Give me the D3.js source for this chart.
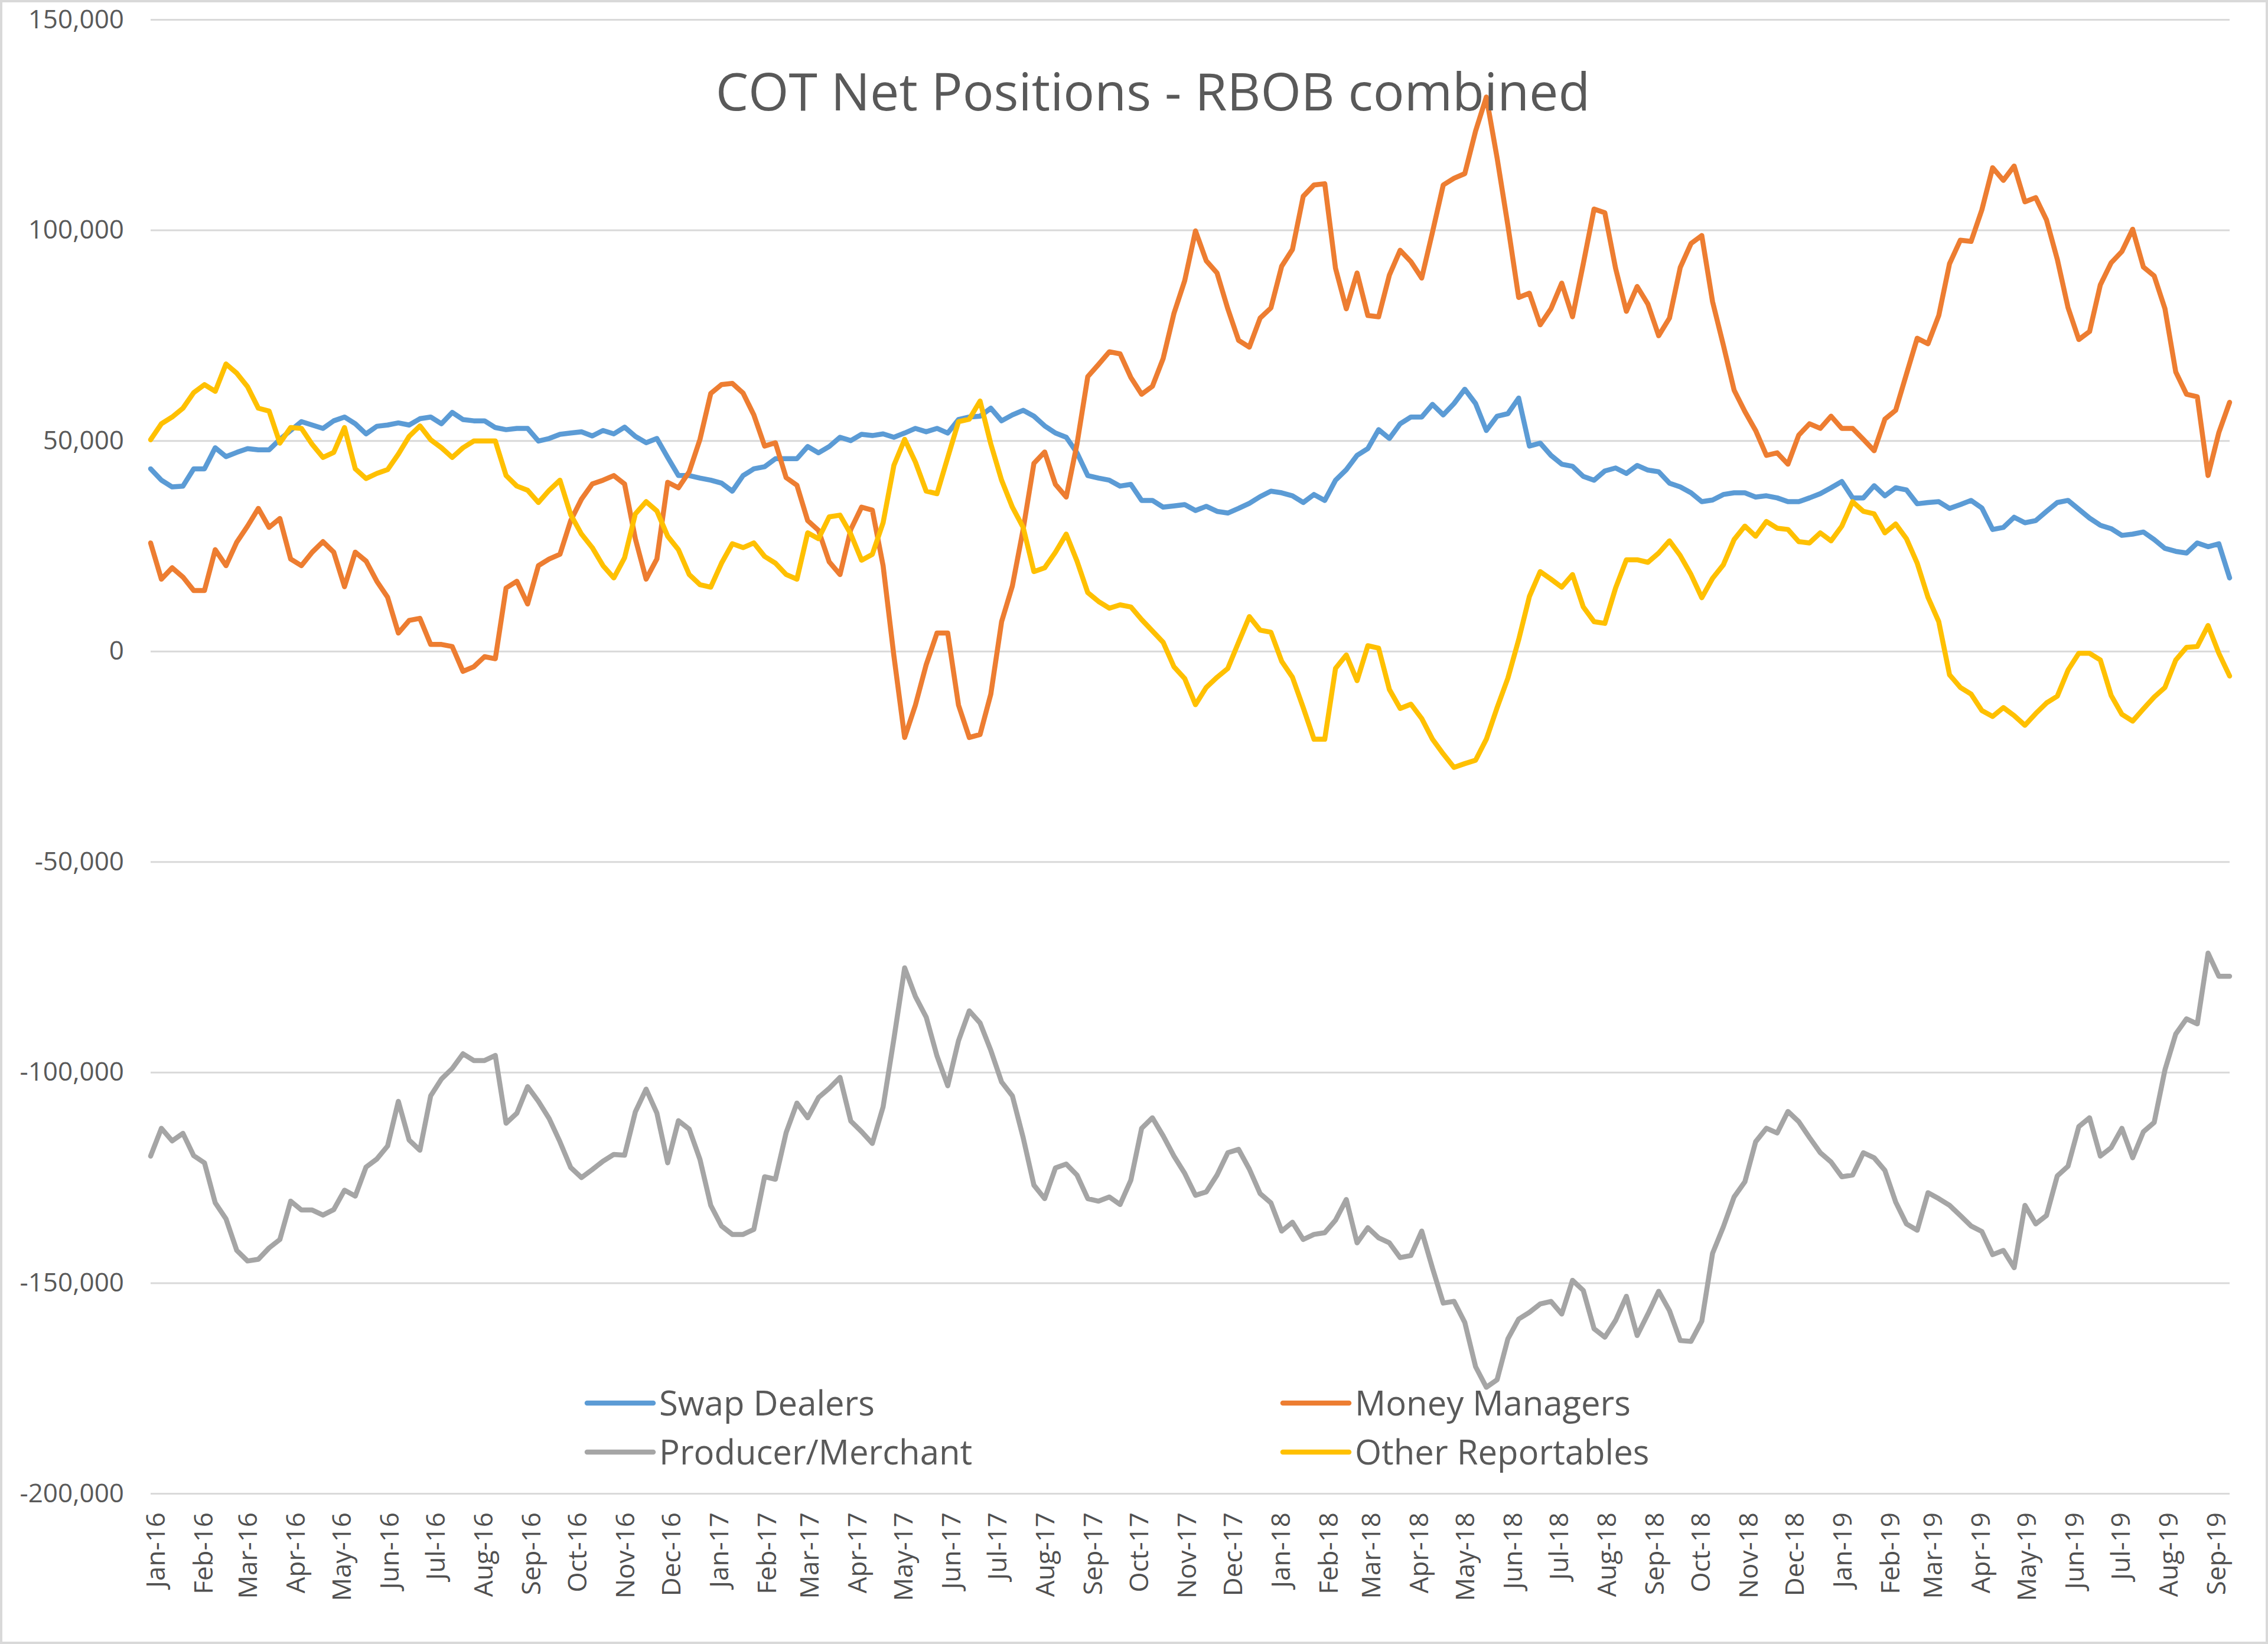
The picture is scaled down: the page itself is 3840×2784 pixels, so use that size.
<!DOCTYPE html>
<html>
<head>
<meta charset="utf-8">
<script src="https://cdn.jsdelivr.net/npm/d3@7"></script>
<style>
  html, body { margin: 0; padding: 0; background: #ffffff; }
  svg { display: block; }
</style>
</head>
<body>
<svg id="chart" width="3840" height="2784"></svg>
<script>
// ---------------- DATA ----------------
const chartTitle = "COT Net Positions - RBOB combined";

// weekly COT report dates (Tuesdays), 29 Dec 2015 .. 10 Sep 2019
const weeks = d3.utcTuesday.range(Date.UTC(2015, 11, 29), Date.UTC(2019, 8, 11));

const seriesNames = ["Swap Dealers", "Money Managers", "Producer/Merchant", "Other Reportables"];
const seriesColors = ["#5B9BD5", "#ED7D31", "#A5A5A5", "#FFC000"];

const swapDealers = [
  43300,40600,39000,39200,43300,43300,48300,46200,47200,48100,
  47800,47800,50300,52400,54500,53700,52900,54700,55600,54000,
  51600,53400,53700,54200,53700,55200,55600,54000,56700,55000,
  54700,54700,53100,52600,52900,52900,49900,50500,51500,51800,
  52100,51100,52400,51600,53200,51000,49500,50500,46000,41700,
  41700,41100,40600,39900,38000,41700,43300,43800,45700,45700,
  45700,48600,47100,48600,50800,50000,51500,51200,51600,50800,
  51800,52900,52100,52900,51800,55000,55600,55800,57700,54700,
  56100,57200,55800,53500,51800,50800,47100,41700,41100,40600,
  39200,39600,35800,35800,34200,34500,34800,33400,34400,33200,
  32800,33900,35100,36700,38000,37600,36900,35300,37200,35800,
  40600,43100,46500,48100,52600,50500,54000,55600,55600,58600,
  56100,58800,62200,58800,52400,55800,56400,60100,48700,49400,
  46500,44400,43900,41500,40600,42800,43500,42200,44100,43000,
  42600,39900,39000,37600,35500,35900,37200,37600,37600,36600,
  36900,36400,35500,35500,36400,37400,38800,40300,36400,36400,
  39300,36900,38800,38300,35000,35300,35500,33900,34800,35800,
  34000,28900,29400,31800,30500,31000,33200,35300,35800,33700,
  31600,29900,29100,27500,27800,28300,26500,24400,23700,23300,
  25700,24800,25500,17400
];

const moneyManagers = [
  25700,17100,19800,17600,14400,14400,24100,20300,25900,29700,
  33900,29400,31500,21900,20300,23500,26000,23500,15300,23500,
  21400,16600,12800,4300,7300,7800,1600,1600,1100,-4800,
  -3700,-1300,-1800,15000,16600,11200,20300,21900,23000,31000,
  36100,39700,40600,41700,39700,26700,17100,21900,40100,38800,
  42600,50300,61200,63300,63600,61300,56100,48700,49500,41200,
  39400,31000,28700,21200,18200,28900,34200,33500,20300,-1100,
  -20500,-12800,-3200,4300,4300,-12800,-20500,-19800,-10200,7000,
  15500,28900,44600,47300,39600,36600,49200,65200,68100,71100,
  70600,65000,61000,62900,69500,80200,88000,99800,92700,89800,
  81300,73800,72200,79100,81500,91400,95400,108000,110700,111000,
  90900,81300,89800,79700,79400,89300,95200,92500,88600,99500,
  110700,112300,113400,123500,131600,117100,101100,84000,85000,77500,
  81300,87400,79400,92000,105000,104100,90900,80700,86600,82400,
  74900,79100,91100,96800,98700,83000,72700,62000,56900,52400,
  46500,47100,44400,51300,54000,52900,55800,52900,52900,50300,
  47600,55100,57200,65800,74300,73000,79700,92000,97600,97300,
  104800,114800,111800,115200,106700,107700,102400,93100,81600,74000,
  75900,87000,92200,94900,100200,91200,89100,81300,66300,61000,
  60400,41700,51900,59100
];

const producerMerchant = [
  -119900,-113300,-116300,-114500,-119800,-121500,-131000,-134800,-142300,-144800,
  -144400,-141700,-139700,-130600,-132700,-132700,-133900,-132600,-128000,-129400,
  -122500,-120600,-117500,-106900,-116100,-118500,-105600,-101600,-99100,-95600,
  -97200,-97200,-96000,-112100,-109700,-103400,-106900,-111000,-116500,-122600,
  -125000,-123100,-121100,-119500,-119700,-109400,-104000,-109700,-121500,-111500,
  -113500,-120700,-131600,-136500,-138500,-138500,-137300,-124800,-125400,-114300,
  -107300,-110800,-106000,-103800,-101200,-111600,-114100,-116900,-108200,-92100,
  -75200,-82000,-86900,-96100,-103200,-92500,-85400,-88300,-94800,-102300,
  -105600,-115500,-126800,-130000,-122700,-121800,-124400,-130000,-130600,-129600,
  -131400,-125600,-113300,-110800,-115100,-119900,-124000,-129200,-128400,-124400,
  -119100,-118300,-123000,-128800,-131000,-137700,-135600,-139700,-138500,-138100,
  -135100,-130200,-140500,-136900,-139300,-140500,-144000,-143500,-137700,-146500,
  -154800,-154400,-159400,-169900,-174800,-173000,-163300,-158600,-157000,-155000,
  -154400,-157400,-149400,-151800,-160900,-162900,-158900,-153200,-162500,-157400,
  -152000,-156600,-163700,-163900,-159100,-143000,-136700,-129600,-126000,-116500,
  -113300,-114400,-109300,-111700,-115500,-119100,-121300,-124800,-124400,-119100,
  -120300,-123300,-130800,-136000,-137500,-128600,-130000,-131600,-134000,-136500,
  -137800,-143300,-142300,-146400,-131600,-136000,-134000,-124600,-122300,-112900,
  -110800,-119900,-117900,-113300,-120300,-114100,-111900,-99400,-90900,-87300,
  -88500,-71700,-77200,-77200
];

const otherReportables = [
  50200,54000,55600,57700,61400,63300,61700,68200,66000,62800,
  57700,57000,49400,53100,52900,49100,46000,47200,53100,43300,
  41000,42200,43100,46800,51000,53500,50200,48300,46000,48300,
  49900,49900,49900,41700,39200,38200,35300,38200,40600,32400,
  27800,24600,20300,17400,22200,32600,35500,33300,27300,24100,
  18200,15800,15200,20900,25500,24600,25700,22500,20900,18200,
  17100,28100,26700,31900,32300,27800,21600,23000,30500,44100,
  50300,44900,38000,37400,46000,54500,55100,59400,49200,40600,
  34200,29400,18900,19800,23500,27800,21400,13900,11800,10200,
  11000,10500,7500,4800,2100,-3700,-6500,-12700,-8600,-6200,
  -4100,2100,8200,5000,4500,-2400,-6200,-13400,-20900,-20900,
  -4100,-900,-7000,1300,700,-9100,-13600,-12600,-16000,-20900,
  -24400,-27600,-26700,-25900,-20900,-13400,-6400,2700,13000,18900,
  17100,15200,18200,10500,7000,6600,15000,21700,21700,21100,
  23300,26200,22700,18200,12700,17300,20500,26500,29700,27300,
  30800,29200,28900,26000,25700,28100,26200,29700,35500,33200,
  32600,28100,30200,26700,20900,12800,7000,-5600,-8600,-10200,
  -14100,-15500,-13400,-15300,-17600,-14800,-12300,-10700,-4500,-500,
  -500,-2100,-10500,-15000,-16600,-13700,-10900,-8600,-2100,900,
  1100,6100,-500,-5900
];

const yTickValues = [150000, 100000, 50000, 0, -50000, -100000, -150000, -200000];
const yTickLabels = ["150,000", "100,000", "50,000", "0", "-50,000", "-100,000", "-150,000", "-200,000"];
// month tick labels Jan-16 .. Sep-19
const monthTicks = d3.utcMonth.range(Date.UTC(2016, 0, 1), Date.UTC(2019, 8, 2));

// ---------------- DRAW ----------------
(function () {
const W = 3840, H = 2784;
const svg = d3.select("#chart");
const FONT = "'Open Sans', 'Noto Sans', sans-serif";
const TXT = "#595959";

svg.append("rect").attr("x", 0).attr("y", 0).attr("width", W).attr("height", H).attr("fill", "#fff");
svg.append("rect").attr("x", 2).attr("y", 2).attr("width", W - 4).attr("height", H - 4)
  .attr("fill", "none").attr("stroke", "#d9d9d9").attr("stroke-width", 4);

const pLeft = 255, pRight = 3775, pTop = 33, pBottom = 2529;

const x = d3.scaleUtc().domain([weeks[0], weeks[weeks.length - 1]]).range([pLeft, pRight]);
const y = d3.scaleLinear().domain([-200000, 150000]).range([pBottom, pTop]);

// gridlines
const grid = svg.append("g").attr("transform", `translate(${pLeft},0)`)
  .call(d3.axisLeft(y).tickValues(yTickValues).tickSize(-(pRight - pLeft)).tickFormat(""));
grid.select(".domain").remove();
grid.selectAll("line").attr("stroke", "#d9d9d9").attr("stroke-width", 3);

// y axis labels
const yAx = svg.append("g").attr("transform", `translate(${pLeft},0)`)
  .call(d3.axisLeft(y).tickValues(yTickValues).tickSize(0).tickPadding(45)
    .tickFormat(d => yTickLabels[yTickValues.indexOf(d)]));
yAx.select(".domain").remove();
yAx.selectAll("text").attr("font-family", FONT).attr("font-size", 44).attr("fill", TXT);

// x axis labels
const xAx = svg.append("g").attr("transform", `translate(0,${pBottom})`)
  .call(d3.axisBottom(x).tickValues(monthTicks).tickSize(0).tickFormat(d3.utcFormat("%b-%y")));
xAx.select(".domain").remove();
xAx.selectAll("text")
  .attr("font-family", FONT).attr("font-size", 44).attr("fill", "#505050")
  .attr("transform", "rotate(-90)")
  .attr("text-anchor", "end")
  .attr("x", -32).attr("y", 0).attr("dy", "0.36em");

// series lines
const allSeries = [swapDealers, moneyManagers, producerMerchant, otherReportables];
const line = d3.line().x((d, i) => x(weeks[i])).y(d => y(d));
allSeries.forEach((s, k) => {
  svg.append("path").datum(s)
    .attr("d", line)
    .attr("fill", "none")
    .attr("stroke", seriesColors[k])
    .attr("stroke-width", 8.5)
    .attr("stroke-linejoin", "round")
    .attr("stroke-linecap", "round");
});

// title
svg.append("text").attr("x", 1952).attr("y", 187)
  .attr("text-anchor", "middle")
  .attr("font-family", FONT).attr("font-size", 88).attr("fill", TXT)
  .text(chartTitle);

// legend
const legendPos = [
  { lx: 994, ty: 2376 }, { lx: 2172, ty: 2376 },
  { lx: 994, ty: 2459 }, { lx: 2172, ty: 2459 }
];
const lg = svg.append("g");
seriesNames.forEach((name, k) => {
  const p = legendPos[k];
  lg.append("line").attr("x1", p.lx).attr("x2", p.lx + 112).attr("y1", p.ty).attr("y2", p.ty)
    .attr("stroke", seriesColors[k]).attr("stroke-width", 8.5).attr("stroke-linecap", "round");
  lg.append("text").attr("x", p.lx + 122).attr("y", p.ty + 21)
    .attr("font-family", FONT).attr("font-size", 58).attr("fill", TXT)
    .text(name);
});
})();
</script>
</body>
</html>
